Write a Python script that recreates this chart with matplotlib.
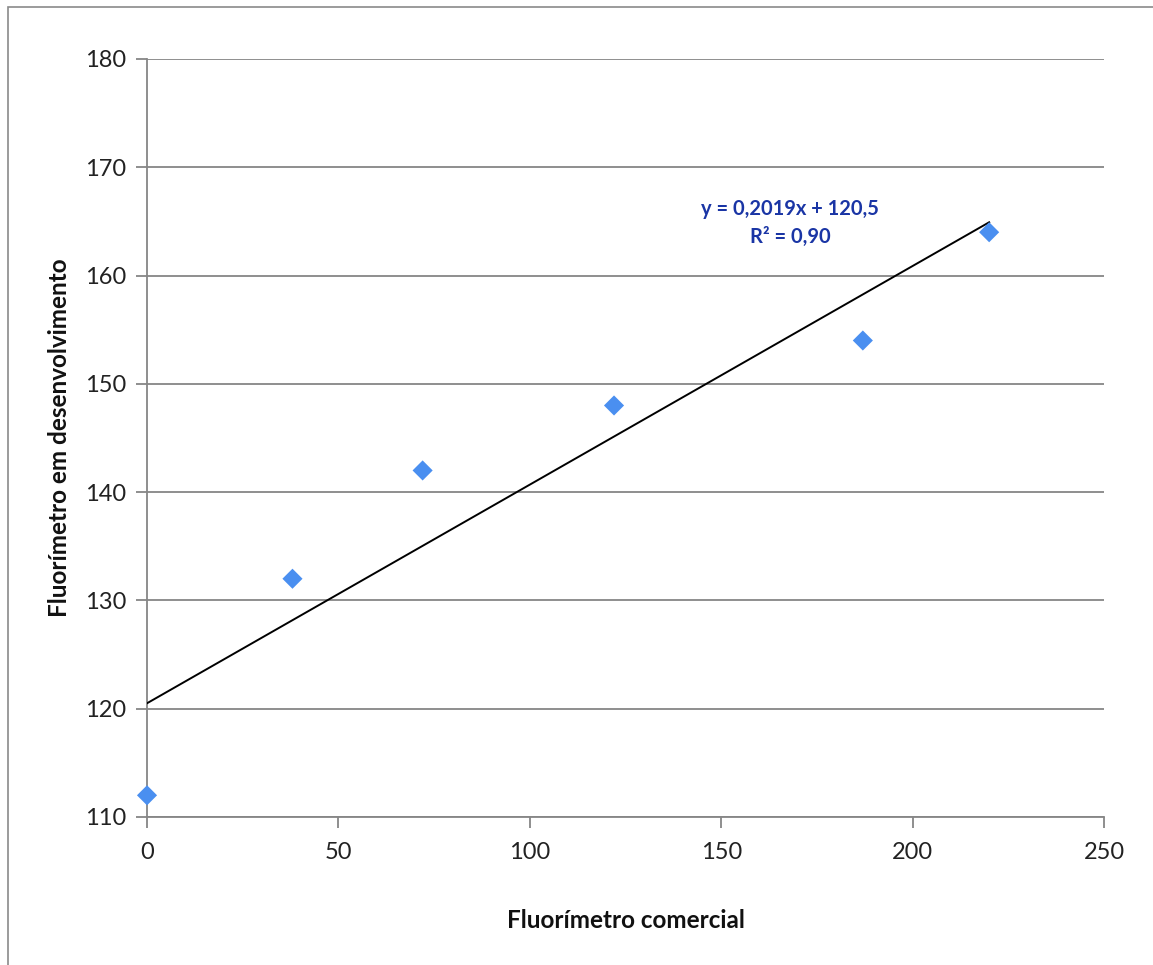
import matplotlib.pyplot as plt
from matplotlib.patches import Rectangle

# Leituras dos dois fluorímetros
comercial = [0, 38, 72, 122, 187, 220]
desenvolvimento = [112, 132, 142, 148, 154, 164]

# Linha de tendência (ajuste linear)
slope = 0.2019
intercept = 120.5
r2 = 0.90

x_ticks = [0, 50, 100, 150, 200, 250]
y_ticks = [110, 120, 130, 140, 150, 160, 170, 180]

GRID = "#868686"
FONT = ["Lato", "DejaVu Sans"]

fig = plt.figure(figsize=(11.53, 9.65), dpi=100)
ax = fig.add_axes([0.1275, 0.1534, 0.8300, 0.7855])

# moldura do gráfico
fig.patches.append(Rectangle((8 / 1153, -0.05), 1.2, 1 - 7 / 965 + 0.05,
                             transform=fig.transFigure, fill=False,
                             edgecolor="#8a8a8a", linewidth=1.2))

ax.set_xlim(0, 250)
ax.set_ylim(110, 180)
ax.set_xticks(x_ticks)
ax.set_yticks(y_ticks)
ax.grid(axis="y", color=GRID, linewidth=1.3)
ax.set_axisbelow(True)

for s in ("top", "right"):
    ax.spines[s].set_visible(False)
for s in ("left", "bottom"):
    ax.spines[s].set_color(GRID)
    ax.spines[s].set_linewidth(1.3)
ax.tick_params(direction="out", length=8, width=1.3, color=GRID,
               labelsize=17, labelcolor="#222222", pad=7)
ax.tick_params(axis="x", pad=10)
for lab in ax.get_xticklabels() + ax.get_yticklabels():
    lab.set_family(FONT)

x_fit = [0, max(comercial)]
y_fit = [slope * v + intercept for v in x_fit]
ax.plot(x_fit, y_fit, color="black", linewidth=1.4, zorder=3)

ax.scatter(comercial, desenvolvimento, marker="D", s=105, color="#4A8FF0",
           edgecolors="none", zorder=4, clip_on=False)

eq = f"y = {slope:.4f}x + {intercept:.1f}".replace(".", ",")
ax.text(168, 164.85, f"{eq}\nR² = {r2:.2f}".replace("0.", "0,"),
        ha="center", va="center", fontsize=14.5, weight="bold",
        color="#1A35A5", family=FONT, linespacing=1.45)

ax.set_xlabel("Fluorímetro comercial", fontsize=17.5, weight="bold",
              family=FONT, labelpad=33, color="#111111")
ax.set_ylabel("Fluorímetro em desenvolvimento", fontsize=17.5, weight="bold",
              family=FONT, labelpad=10, color="#111111")

fig.savefig("out.png", dpi=100, facecolor="white")
